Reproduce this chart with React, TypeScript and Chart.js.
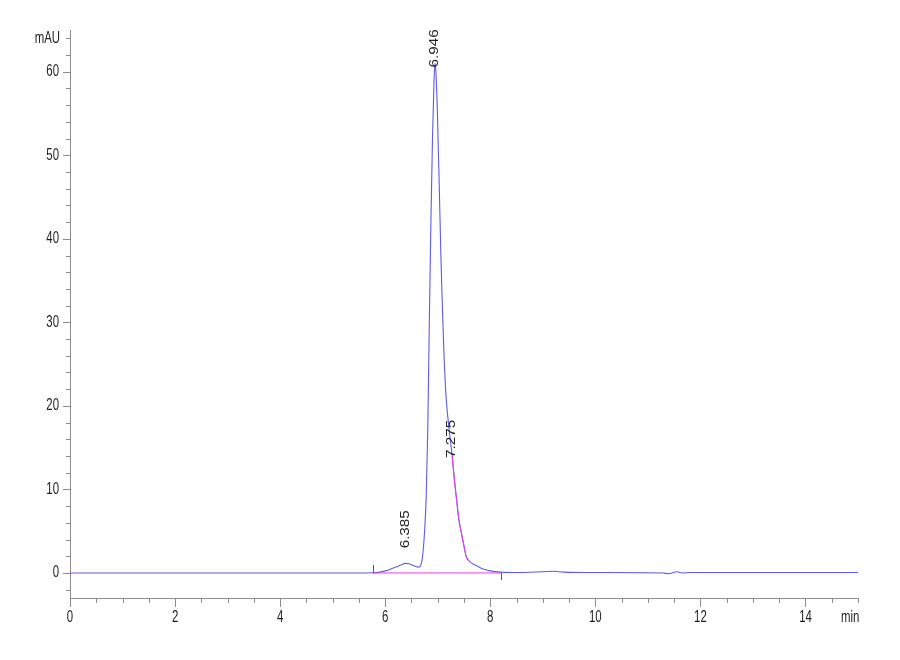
import React, { useEffect, useRef } from "react";
import { Chart, registerables } from "chart.js";

Chart.register(...registerables);

// Chromatogram trace (retention time in min, absorbance in mAU)
const times = [
  0, 2, 4, 5.5, 5.76, 5.9, 6.0, 6.1, 6.2, 6.3, 6.385, 6.45, 6.55, 6.62, 6.66, 6.7, 6.72,
  6.75, 6.78, 6.81, 6.84, 6.87, 6.9, 6.93, 6.946, 6.96, 6.99, 7.03, 7.06, 7.085, 7.12,
  7.16, 7.22, 7.275, 7.32, 7.36, 7.4, 7.45, 7.5, 7.54, 7.6, 7.73, 7.85, 8.0, 8.2, 8.5,
  9.0, 9.2, 9.4, 10.0, 11.3, 11.4, 11.55, 11.65, 11.8, 13, 15,
];
const signal = [
  0, 0, 0, 0, 0.02, 0.1, 0.25, 0.45, 0.7, 0.95, 1.15, 1.1, 0.85, 0.7, 0.75, 1.5, 2.5,
  5, 9, 17, 30, 42, 52, 59, 61, 60.5, 56, 46, 38, 32.5, 26,
  21, 17, 14, 11, 8.7, 6.5, 4.8, 3.2, 2.0, 1.4, 0.9, 0.5, 0.25, 0.1, 0.05,
  0.15, 0.2, 0.1, 0.05, 0.0, -0.1, 0.15, 0.0, 0.05, 0.05, 0.05,
];

const xTickValues = [0, 2, 4, 6, 8, 10, 12, 14];
const yTickValues = [0, 10, 20, 30, 40, 50, 60];
const xUnit = "min";
const yUnit = "mAU";

const peakTimes = [6.385, 6.946, 7.275];
const peakHeights = [1.15, 61, 14];
const peakLabels = ["6.385", "6.946", "7.275"];

const baselineTimes = [5.76, 8.2];
const shoulderRange = [7.25, 7.6];

const X_MIN = 0;
const X_MAX = 15;
const Y_MIN = -3;
const Y_MAX = 65;

const AXIS_COLOR = "#8c8c8c";
const TEXT_COLOR = "#1e1e1e";
const TRACE_COLOR = "#5c5ce4";
const BASELINE_COLOR = "#e83ce8";
const LABEL_FONT = "12px 'Liberation Sans', Arial, sans-serif";

function drawStretched(ctx: CanvasRenderingContext2D, text: string, x: number, y: number, align: CanvasTextAlign) {
  ctx.save();
  ctx.translate(x, y);
  ctx.scale(0.95, 1.33);
  ctx.textAlign = align;
  ctx.textBaseline = "middle";
  ctx.fillText(text, 0, 0);
  ctx.restore();
}

const decorPlugin = {
  id: "decor",
  afterDraw(chart: any) {
    const { ctx, chartArea } = chart;
    const x = chart.scales.x;
    const y = chart.scales.y;
    ctx.save();
    // tick marks
    ctx.strokeStyle = AXIS_COLOR;
    ctx.lineWidth = 1;
    ctx.beginPath();
    for (let v = -2; v <= 64; v += 2) {
      const py = Math.round(y.getPixelForValue(v)) + 0.5;
      const len = v % 10 === 0 ? 7 : 4;
      ctx.moveTo(chartArea.left - len, py);
      ctx.lineTo(chartArea.left, py);
    }
    for (let v = 0; v <= 15; v += 0.5) {
      const px = Math.round(x.getPixelForValue(v)) + 0.5;
      const len = v % 2 === 0 ? 9 : 5;
      ctx.moveTo(px, chartArea.bottom);
      ctx.lineTo(px, chartArea.bottom + len);
    }
    ctx.stroke();

    // baseline start / end markers
    ctx.strokeStyle = "#555";
    ctx.beginPath();
    const y0 = y.getPixelForValue(0);
    const bs = Math.round(x.getPixelForValue(baselineTimes[0])) + 0.5;
    ctx.moveTo(bs, y0 - 8);
    ctx.lineTo(bs, y0);
    const be = Math.round(x.getPixelForValue(baselineTimes[1])) + 0.5;
    ctx.moveTo(be, y0);
    ctx.lineTo(be, y0 + 7);
    ctx.stroke();

    // tick labels from the scales' ticks
    ctx.fillStyle = TEXT_COLOR;
    ctx.font = LABEL_FONT;
    for (const t of y.ticks) {
      drawStretched(ctx, String(t.value), chartArea.left - 11, y.getPixelForValue(t.value), "right");
    }
    drawStretched(ctx, yUnit, chartArea.left - 10, y.getPixelForValue(64), "right");
    for (const t of x.ticks) {
      drawStretched(ctx, String(t.value), x.getPixelForValue(t.value), chartArea.bottom + 19.5, "center");
    }
    ctx.save();
    ctx.beginPath();
    ctx.rect(0, 0, chartArea.right + 1, chart.height);
    ctx.clip();
    drawStretched(ctx, xUnit, chartArea.right - 17, chartArea.bottom + 19.5, "left");
    ctx.restore();

    // peak labels (rotated)
    const offsets = [15, -4, -2];
    ctx.font = LABEL_FONT;
    ctx.fillStyle = "#222";
    for (let i = 0; i < peakTimes.length; i++) {
      const px = x.getPixelForValue(peakTimes[i]);
      const py = y.getPixelForValue(peakHeights[i]) - offsets[i];
      ctx.save();
      ctx.translate(px, py);
      ctx.rotate(-Math.PI / 2);
      ctx.scale(1.27, 1);
      ctx.textAlign = "left";
      ctx.textBaseline = "middle";
      ctx.fillText(peakLabels[i], 0, 0);
      ctx.restore();
    }
    ctx.restore();
  },
};

export default function App() {
  const canvasRef = useRef<HTMLCanvasElement | null>(null);

  useEffect(() => {
    if (!canvasRef.current) return;
    const trace = times.map((t, i) => ({ x: t, y: signal[i] }));
    const shoulder = trace.filter((p) => p.x >= shoulderRange[0] && p.x <= shoulderRange[1]);
    const baseline = baselineTimes.map((t) => ({ x: t, y: 0 }));

    const chart = new Chart(canvasRef.current, {
      type: "line",
      data: {
        datasets: [
          {
            data: baseline,
            borderColor: BASELINE_COLOR,
            borderWidth: 1,
            pointRadius: 0,
            order: 1,
          },
          {
            data: shoulder,
            borderColor: BASELINE_COLOR,
            borderWidth: 1,
            pointRadius: 0,
            cubicInterpolationMode: "monotone",
            order: 1,
          },
          {
            data: trace,
            borderColor: TRACE_COLOR,
            borderWidth: 1.1,
            pointRadius: 0,
            cubicInterpolationMode: "monotone",
            order: 2,
          },
        ],
      },
      options: {
        animation: false,
        responsive: false,
        devicePixelRatio: 1,
        layout: { padding: { left: 0, top: 30, right: 42, bottom: 0 } },
        plugins: { legend: { display: false }, tooltip: { enabled: false } },
        scales: {
          x: {
            type: "linear",
            min: X_MIN,
            max: X_MAX,
            afterBuildTicks: (axis: any) => {
              axis.ticks = xTickValues.map((v) => ({ value: v }));
            },
            afterFit: (axis: any) => {
              axis.height = 62;
            },
            grid: { display: false, drawTicks: false },
            border: { display: true, color: AXIS_COLOR, width: 1 },
            ticks: { display: false },
          },
          y: {
            type: "linear",
            min: Y_MIN,
            max: Y_MAX,
            afterBuildTicks: (axis: any) => {
              axis.ticks = yTickValues.map((v) => ({ value: v }));
            },
            afterFit: (axis: any) => {
              axis.width = 70;
            },
            grid: { display: false, drawTicks: false },
            border: { display: true, color: AXIS_COLOR, width: 1 },
            ticks: { display: false },
          },
        },
      },
      plugins: [decorPlugin],
    } as any);
    return () => chart.destroy();
  }, []);

  return (
    <div style={{ position: "fixed", left: 0, top: 0, width: 900, height: 660, background: "#fff" }}>
      <canvas ref={canvasRef} width={900} height={660} style={{ width: 900, height: 660, display: "block" }} />
    </div>
  );
}
